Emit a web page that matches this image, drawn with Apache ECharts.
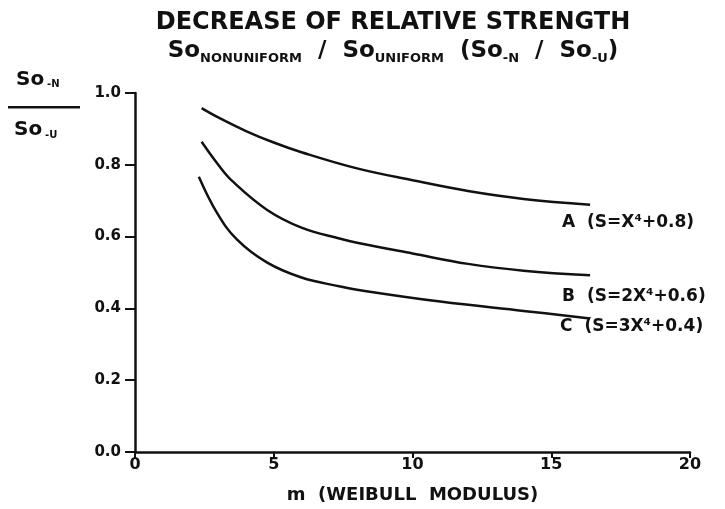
<!DOCTYPE html>
<html>
<head>
<meta charset="utf-8">
<script src="https://cdn.jsdelivr.net/npm/echarts@6/dist/echarts.min.js"></script>
<style>
  html, body { margin: 0; padding: 0; background: #fff; }
  #main { width: 725px; height: 509px; }
</style>
</head>
<body>
<div id="main"></div>
<script>
// m (Weibull modulus) vs So,N / So,U
var curveA = [[2.4, 0.958], [3, 0.932], [4, 0.894], [5, 0.862], [6, 0.835], [8, 0.79], [10, 0.757], [12, 0.727], [14, 0.705], [16.4, 0.689]];
var curveB = [[2.4, 0.864], [3, 0.8], [3.5, 0.755], [4.75, 0.675], [6, 0.625], [7.4, 0.594], [8, 0.583], [10, 0.553], [12, 0.524], [14, 0.505], [16.4, 0.492]];
var curveC = [[2.3, 0.767], [2.95, 0.667], [3.67, 0.592], [4.75, 0.528], [6, 0.486], [7.4, 0.461], [8, 0.452], [11, 0.419], [14, 0.393], [16.4, 0.372]];
var curveNames = ['A  (S=X⁴+0.8)', 'B  (S=2X⁴+0.6)', 'C  (S=3X⁴+0.4)'];
var xTicks = [0, 5, 10, 15, 20];
var yTicks = [0, 0.2, 0.4, 0.6, 0.8, 1.0];

var chartDom = document.getElementById('main');
var myChart = echarts.init(chartDom);
var font = 'DejaVu Sans';
var ink = '#111';

function curve(name, data, offset) {
  return {
    name: name,
    type: 'line',
    data: data,
    smooth: 0.4,
    showSymbol: false,
    lineStyle: { color: ink, width: 2.5 },
    endLabel: {
      show: true,
      formatter: name,
      color: ink,
      fontFamily: font,
      fontWeight: 'bold',
      fontSize: 17,
      distance: 0,
      offset: offset
    }
  };
}

var option = {
  animation: false,
  backgroundColor: '#fff',
  title: {
    left: 388,
    top: 4,
    textAlign: 'center',
    text: 'DECREASE OF RELATIVE STRENGTH\n{m|So}{s|NONUNIFORM}{m|  /  So}{s|UNIFORM}{m|  (So}{s|-N}{m|  /  So}{s|-U}{m|)}',
    textStyle: {
      color: ink,
      fontFamily: font,
      fontSize: 24,
      fontWeight: 'bold',
      lineHeight: 28,
      rich: {
        m: { fontFamily: font, fontSize: 23, fontWeight: 'bold', color: ink },
        s: { fontFamily: font, fontSize: 13, fontWeight: 'bold', color: ink, verticalAlign: 'bottom', padding: [9, 0, 0, 0] }
      }
    }
  },
  graphic: [
    { type: 'text', left: 16, top: 70, style: { text: 'So', fontFamily: font, fontSize: 20, fontWeight: 'bold', fill: ink } },
    { type: 'text', left: 47, top: 79, style: { text: '-N', fontFamily: font, fontSize: 10, fontWeight: 'bold', fill: ink } },
    { type: 'rect', left: 8, top: 106, shape: { width: 72, height: 2.5 }, style: { fill: ink } },
    { type: 'text', left: 14, top: 120, style: { text: 'So', fontFamily: font, fontSize: 20, fontWeight: 'bold', fill: ink } },
    { type: 'text', left: 45, top: 130, style: { text: '-U', fontFamily: font, fontSize: 10, fontWeight: 'bold', fill: ink } }
  ],
  grid: { left: 135, right: 35, top: 93, bottom: 56 },
  xAxis: {
    type: 'value',
    min: xTicks[0],
    max: xTicks[xTicks.length - 1],
    interval: 5,
    name: 'm  (WEIBULL  MODULUS)',
    nameLocation: 'middle',
    nameGap: 34,
    nameTextStyle: { color: ink, fontFamily: font, fontSize: 18, fontWeight: 'bold' },
    axisLine: { show: true, lineStyle: { color: ink, width: 2.5 } },
    axisTick: { show: true, length: 6, lineStyle: { color: ink, width: 2 } },
    axisLabel: { color: ink, fontFamily: font, fontSize: 16, fontWeight: 'bold', margin: 5, showMinLabel: true, showMaxLabel: true },
    splitLine: { show: false }
  },
  yAxis: {
    type: 'value',
    min: yTicks[0],
    max: yTicks[yTicks.length - 1],
    interval: 0.2,
    axisLine: { show: true, lineStyle: { color: ink, width: 2.5 } },
    axisTick: { show: true, length: 10, lineStyle: { color: ink, width: 2 } },
    axisLabel: {
      color: ink, fontFamily: font, fontSize: 15, fontWeight: 'bold', margin: 14,
      formatter: function (v) { return v.toFixed(1); }
    },
    splitLine: { show: false }
  },
  series: [
    curve(curveNames[0], curveA, [-28, 18]),
    curve(curveNames[1], curveB, [-28, 21]),
    curve(curveNames[2], curveC, [-30, 8])
  ]
};

myChart.setOption(option);
</script>
</body>
</html>
